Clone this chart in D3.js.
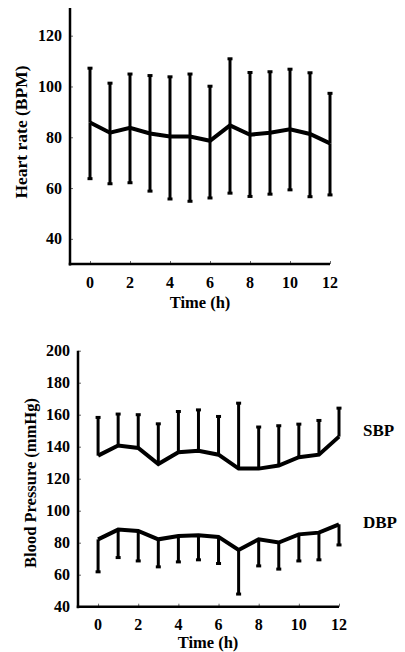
<!DOCTYPE html>
<html><head><meta charset="utf-8">
<script src="https://cdn.jsdelivr.net/npm/d3@7"></script>
<style>body{margin:0;background:#fff}svg{display:block}text{font-family:"Liberation Serif","Times New Roman",serif;font-weight:bold;fill:#000}</style>
</head><body>
<script>
const hours = [0,1,2,3,4,5,6,7,8,9,10,11,12];
const xTicks = [0,2,4,6,8,10,12];
const hrTicks = [40,60,80,100,120];
const bpTicks = [40,60,80,100,120,140,160,180,200];
const hrMean  = [85.8,81.8,83.7,81.5,80.3,80.3,78.6,84.7,81.0,81.8,83.1,81.3,77.6];
const hrUpper = [107.2,101.3,104.9,104.3,103.8,104.9,100.1,110.9,105.5,105.8,106.8,105.4,97.3];
const hrLower = [63.7,61.7,62.1,58.8,55.7,54.8,56.1,58.0,56.7,57.6,59.3,56.6,57.3];
const sbpMean  = [134.4,140.7,139.2,129.2,136.5,137.5,135.0,126.3,126.3,128.2,133.4,135.0,146.3];
const sbpUpper = [158.3,160.4,160.0,154.3,162.0,163.0,158.9,167.2,152.3,153.1,154.1,156.4,164.1];
const dbpMean  = [82.1,88.2,87.3,82.1,84.2,84.6,83.6,75.5,82.1,80.1,85.2,86.3,91.5];
const dbpLower = [61.8,70.7,68.6,64.9,68.0,69.3,67.0,47.9,65.5,63.5,68.6,69.3,78.6];

const svg = d3.select("body").append("svg").attr("width",405).attr("height",652);

function panel(o){
  const x = d3.scaleLinear().domain([-1,12]).range([o.x0,o.x1]);
  const y = d3.scaleLinear().domain(o.yDomain).range([o.yBottom,o.yTop]);
  const g = svg.append("g");
  const ya = g.append("g").attr("transform",`translate(${o.x0},0)`)
    .call(d3.axisRight(y).tickValues(o.yTicks).tickSize(3).tickFormat(""));
  ya.select(".domain").remove();
  ya.selectAll(".tick line").attr("stroke","#666").attr("stroke-width",1);
  g.append("line").attr("x1",o.x0).attr("x2",o.x0).attr("y1",o.yTop).attr("y2",o.yBottom+1.5)
    .attr("stroke","#000").attr("stroke-width",2.5);
  g.selectAll(".ylab").data(o.yTicks).enter().append("text")
    .attr("x",o.x0-8).attr("y",d=>y(d)).attr("dy","0.35em").attr("text-anchor","end")
    .style("font-size","16px").text(d=>d);
  const xa = g.append("g").attr("transform",`translate(0,${o.yBottom})`)
    .call(d3.axisTop(x).tickValues(xTicks).tickSize(3).tickFormat(""));
  xa.select(".domain").remove();
  xa.selectAll(".tick line").attr("stroke","#666").attr("stroke-width",1);
  g.append("line").attr("x1",o.x0-1.25).attr("x2",o.x1).attr("y1",o.yBottom).attr("y2",o.yBottom)
    .attr("stroke","#000").attr("stroke-width",2.5);
  g.selectAll(".xlab").data(xTicks).enter().append("text")
    .attr("x",d=>x(d)).attr("y",o.yBottom+18).attr("dy","0.35em").attr("text-anchor","middle")
    .style("font-size","16px").text(d=>d);
  g.append("text").attr("x",o.xTitleX).attr("y",o.xTitleY).attr("dy","0.35em")
    .attr("text-anchor","middle").style("font-size","16.5px").text("Time (h)");
  g.append("text").attr("transform",`translate(${o.yTitleX},${o.yTitleY}) rotate(-90)`)
    .attr("dy","0.35em").attr("text-anchor","middle").style("font-size",o.yTitleSize).text(o.yTitle);
  return {x,y,g};
}

function errBars(p, means, ends){
  p.g.selectAll(null).data(hours).enter().append("line")
    .attr("x1",d=>p.x(d)).attr("x2",d=>p.x(d))
    .attr("y1",(d,i)=>p.y(means[i])).attr("y2",(d,i)=>p.y(ends[i]))
    .attr("stroke","#000").attr("stroke-width",3);
  p.g.selectAll(null).data(hours).enter().append("rect")
    .attr("x",d=>p.x(d)-2.5).attr("y",(d,i)=>p.y(ends[i])-1.5)
    .attr("width",5).attr("height",3).attr("fill","#000");
}
function meanLine(p, means){
  p.g.append("path").datum(hours)
    .attr("d",d3.line().x(d=>p.x(d)).y((d,i)=>p.y(means[i])))
    .attr("fill","none").attr("stroke","#000").attr("stroke-width",4).attr("stroke-linejoin","miter");
}

const p1 = panel({x0:70,x1:330,yTop:8,yBottom:264,yDomain:[30.1,130.9],yTicks:hrTicks,
  xTitleX:200,xTitleY:302,yTitleX:21,yTitleY:132,yTitle:"Heart rate (BPM)",yTitleSize:"17.5px"});
errBars(p1, hrMean, hrUpper);
errBars(p1, hrMean, hrLower);
meanLine(p1, hrMean);

const p2 = panel({x0:78,x1:339,yTop:350.7,yBottom:606.7,yDomain:[40,200],yTicks:bpTicks,
  xTitleX:208,xTitleY:642,yTitleX:30,yTitleY:483,yTitle:"Blood Pressure (mmHg)",yTitleSize:"16.5px"});
errBars(p2, sbpMean, sbpUpper);
errBars(p2, dbpMean, dbpLower);
meanLine(p2, sbpMean);
meanLine(p2, dbpMean);
p2.g.append("text").attr("x",363).attr("y",430).attr("dy","0.35em").style("font-size","17px").text("SBP");
p2.g.append("text").attr("x",363).attr("y",522).attr("dy","0.35em").style("font-size","17px").text("DBP");
</script>
</body></html>
